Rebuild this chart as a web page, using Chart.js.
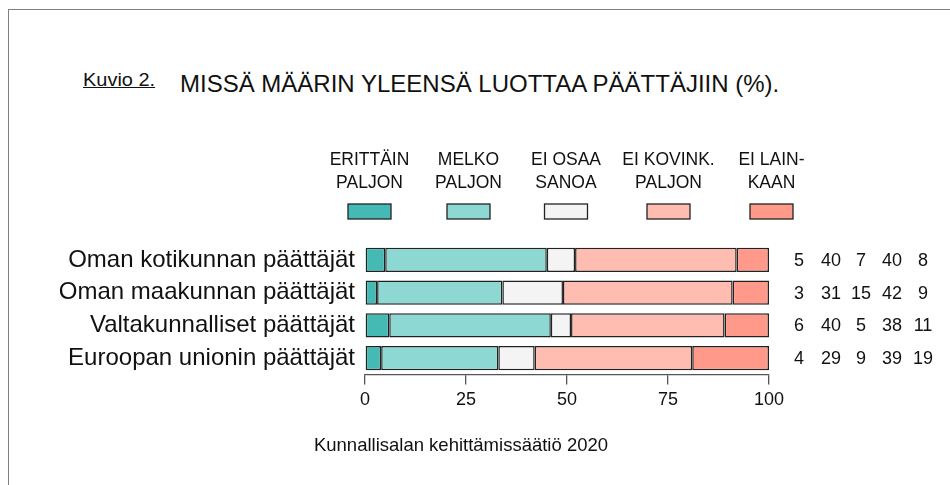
<!DOCTYPE html>
<html>
<head>
<meta charset="utf-8">
<script src="https://cdn.jsdelivr.net/npm/chart.js@4.4.1/dist/chart.umd.min.js"></script>
<style>
  body { margin: 0; background: #fff; }
  #wrap { position: relative; width: 950px; height: 485px; overflow: hidden; }
  #frame { position: absolute; left: 8px; top: 9px; width: 950px; height: 480px;
           border-top: 1.5px solid #808080; border-left: 1.5px solid #808080; }
  #kuvio { position: absolute; left: 83px; top: 69px; font: 19px "Liberation Sans", sans-serif;
           text-decoration: underline; color: #111; transform: scaleX(1.05); transform-origin: left; }
  #otsikko { position: absolute; left: 180px; top: 70px; font: 24px "Liberation Sans", sans-serif; color: #111; }
  #lahde { position: absolute; left: 0; width: 922px; text-align: center; top: 434px;
           font: 18.5px "Liberation Sans", sans-serif; color: #111; }
  canvas { position: absolute; left: 0; top: 0; }
</style>
</head>
<body>
<div id="wrap">
  <div id="frame"></div>
  <div id="kuvio">Kuvio 2.</div>
  <div id="otsikko">MISSÄ MÄÄRIN YLEENSÄ LUOTTAA PÄÄTTÄJIIN (%).</div>
  <canvas id="myChart" width="950" height="485"></canvas>
  <div id="lahde">Kunnallisalan kehittämissäätiö 2020</div>
</div>
<script>
const kategoriat = ["Oman kotikunnan päättäjät", "Oman maakunnan päättäjät", "Valtakunnalliset päättäjät", "Euroopan unionin päättäjät"];
const sarjat = ["ERITTÄIN PALJON", "MELKO PALJON", "EI OSAA SANOA", "EI KOVINK. PALJON", "EI LAINKAAN"];
const selitteet = [["ERITTÄIN", "PALJON"], ["MELKO", "PALJON"], ["EI OSAA", "SANOA"], ["EI KOVINK.", "PALJON"], ["EI LAIN-", "KAAN"]];
const erittain = [5, 3, 6, 4];
const melko = [40, 31, 40, 29];
const eiOsaa = [7, 15, 5, 9];
const eiKovin = [40, 42, 38, 39];
const eiLainkaan = [8, 9, 11, 19];
const akseli = [0, 25, 50, 75, 100];
const varit = ['#45BAB5', '#8ED8D3', '#F4F4F4', '#FFBDB1', '#FF998A'];

const arvot = [erittain, melko, eiOsaa, eiKovin, eiLainkaan];

// selite ja oikean reunan luvut
const omaPiirto = {
    id: 'omaPiirto',
    afterDraw(chart) {
        const c = chart.ctx;
        c.save();
        c.textAlign = 'center';
        c.textBaseline = 'middle';
        c.font = '17.5px "Liberation Sans", sans-serif';
        const kesket = [369.5, 468.5, 566, 668.5, 771.5];
        selitteet.forEach((rivit, i) => {
            c.fillStyle = '#111';
            c.fillText(rivit[0], kesket[i], 160);
            c.fillText(rivit[1], kesket[i], 183);
            c.fillStyle = varit[i];
            c.fillRect(kesket[i] - 21.5, 204, 43, 15);
            c.strokeStyle = '#222';
            c.lineWidth = 1.3;
            c.strokeRect(kesket[i] - 21.5, 204, 43, 15);
        });
        // luvut
        c.font = '18px "Liberation Sans", sans-serif';
        c.fillStyle = '#111';
        const sarakkeet = [799, 831, 861, 892, 923];
        const y = chart.scales.y;
        kategoriat.forEach((k, r) => {
            const py = y.getPixelForValue(r);
            arvot.forEach((s, i) => c.fillText(String(s[r]), sarakkeet[i], py + 1));
        });
        c.restore();
    }
};

const ctx = document.getElementById('myChart').getContext('2d');
const myChart = new Chart(ctx, {
    type: 'bar',
    data: {
        labels: kategoriat,
        datasets: sarjat.map((nimi, i) => ({
            label: nimi,
            data: arvot[i],
            backgroundColor: varit[i],
            borderColor: '#222',
            borderWidth: 1.5,
            borderSkipped: false,
            barPercentage: 0.74,
            categoryPercentage: 1
        }))
    },
    options: {
        indexAxis: 'y',
        responsive: false,
        animation: false,
        layout: { padding: { left: 0, right: 181, top: 243.5, bottom: 70.5 } },
        plugins: {
            legend: { display: false },
            tooltip: { enabled: false }
        },
        scales: {
            x: {
                stacked: true,
                min: 0,
                max: 100,
                afterBuildTicks: (scale) => { scale.ticks = akseli.map(v => ({ value: v })); },
                afterFit: (scale) => { scale.height = 40; },
                grid: { drawOnChartArea: false, drawTicks: true, tickLength: 10, color: '#555', lineWidth: 1.3 },
                border: { display: true, color: '#555', width: 1.3 },
                ticks: { padding: 5, color: '#111', font: { family: '"Liberation Sans", sans-serif', size: 18 } }
            },
            y: {
                stacked: true,
                afterFit: (scale) => { scale.width = 365; },
                grid: { display: false, drawTicks: false },
                border: { display: false },
                ticks: { padding: 10, color: '#111', font: { family: '"Liberation Sans", sans-serif', size: 24 } }
            }
        }
    },
    plugins: [omaPiirto]
});
</script>
</body>
</html>
